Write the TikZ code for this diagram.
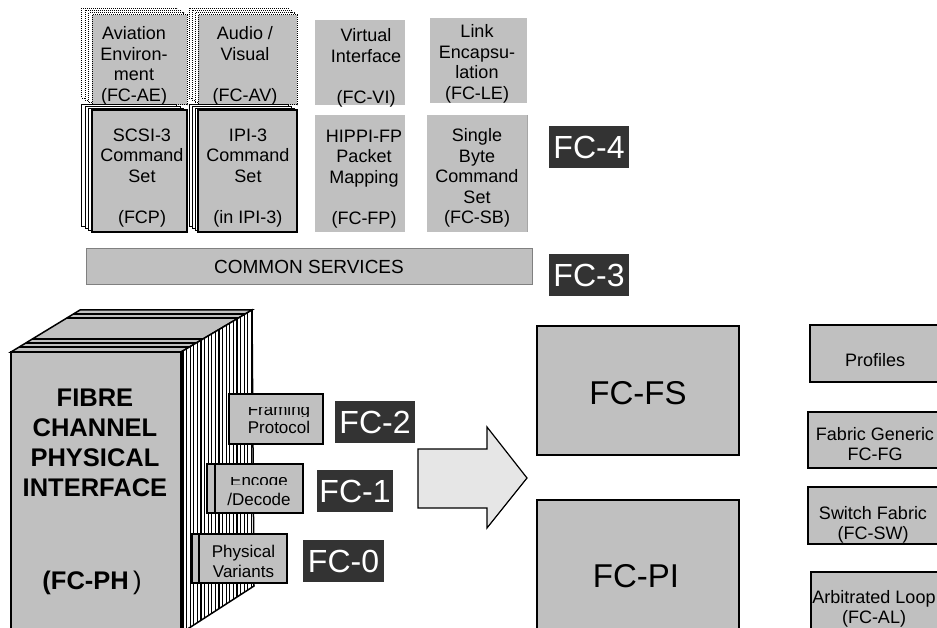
\documentclass[tikz,border=0pt]{standalone}
\usepackage{fontspec}
\setmainfont{Liberation Sans}
\definecolor{boxgray}{HTML}{C0C0C0}
\definecolor{labelbg}{HTML}{333333}
\definecolor{arrowfill}{HTML}{E6E6E6}
\begin{document}
\begin{tikzpicture}[x=1pt,y=-1pt,
  every node/.style={inner sep=0pt, outer sep=0pt},
  rectbox/.style={anchor=north west, draw=black, line width=1.5pt, fill=boxgray},
  plainbox/.style={anchor=north west, fill=boxgray},
  backpage/.style={anchor=north west, draw=black, line width=0.8pt, fill=white},
  dotpage/.style={anchor=north west, draw=black, densely dotted, line width=1pt, fill=white},
  txt/.style={align=center, font=\fontsize{18}{20.5}\selectfont},
  smalltxt/.style={align=center, font=\fontsize{17}{20}\selectfont},
  fclabel/.style={anchor=north west, fill=labelbg, text=white, font=\fontsize{32}{32}\selectfont, minimum width=80, minimum height=42},
  bigtxt/.style={font=\fontsize{33}{33}\selectfont}
]
\useasboundingbox (0,0) rectangle (937,628);
\clip (0,0) rectangle (937,628);

% ---------- top-left stacks: FC-AE / FC-AV ----------
\foreach \k in {3,2,1} {
  \node[dotpage, minimum width=95, minimum height=90] at ({92-3.5*\k},{15-2.3*\k}) {};
  \node[dotpage, minimum width=99, minimum height=90] at ({198-3*\k},{15-2.3*\k}) {};
}
\node[plainbox, draw=black, densely dotted, line width=1pt, minimum width=95, minimum height=90] (ae) at (92,15) {};
\node[plainbox, draw=black, densely dotted, line width=1pt, minimum width=99, minimum height=90] (av) at (198,15) {};
\node[txt] (aet) at (134,66) {Aviation\\Environ-\\ment\\(FC-AE)};
\node[txt] (avt) at (245,66) {Audio /\\Visual\\\mbox{}\\(FC-AV)};

% ---------- SCSI / IPI stacks ----------
\foreach \k in {3,2,1} {
  \node[backpage, minimum width=95, minimum height=122] at ({92-3.5*\k},{110-1.7*\k}) {};
  \node[backpage, minimum width=99, minimum height=122] at ({198-3*\k},{110-1.7*\k}) {};
}
\node[rectbox, minimum width=95, minimum height=122] (scsi) at (92,110) {};
\node[rectbox, minimum width=99, minimum height=122] (ipi) at (198,110) {};
\node[txt] (scsit) at (142,178) {SCSI-3\\Command\\Set\\\mbox{}\\(FCP)};
\node[txt] (ipit) at (248,178) {IPI-3\\Command\\Set\\\mbox{}\\(in IPI-3)};

% ---------- VI / LE / HIPPI / SB ----------
\node[plainbox, minimum width=90, minimum height=85] (vi) at (315,20) {};
\node[plainbox, minimum width=97, minimum height=85] (le) at (430,18) {};
\node[plainbox, minimum width=90, minimum height=117] (fp) at (315,115) {};
\node[plainbox, minimum width=100, minimum height=117] (sb) at (427,115) {};
\draw[gray!70, line width=1pt] (sb.north east) -- (sb.south east);
\node[txt] (vit) at (366,68) {Virtual\\Interface\\\mbox{}\\(FC-VI)};
\node[txt] (let) at (477,64) {Link\\Encapsu-\\lation\\(FC-LE)};
\node[txt] (fpt) at (364,179) {HIPPI-FP\\Packet\\Mapping\\\mbox{}\\(FC-FP)};
\node[txt] (sbt) at (477,178) {Single\\Byte\\Command\\Set\\(FC-SB)};

% ---------- common services ----------
\node[plainbox, draw=gray, line width=1pt, minimum width=446, minimum height=36] (cs) at (86,249) {};
\node[font=\fontsize{19}{22}\selectfont] (cst) at (cs.center) {COMMON SERVICES};

% ---------- FC labels ----------
\node[fclabel] (fc4) at (549,126) {FC-4};
\node[fclabel] (fc3) at (549,254) {FC-3};
\node[fclabel] (fc2) at (335,401) {FC-2};
\node[fclabel, minimum width=76] (fc1) at (317,470) {FC-1};
\node[fclabel, minimum width=81] (fc0) at (303,540) {FC-0};

% ---------- FC-PH block ----------
% top face
\filldraw[fill=boxgray, draw=black, line width=1.5pt] (11,352) -- (80,310) -- (252,310) -- (181,352) -- cycle;
\draw[line width=1.2pt] (19.2,347) -- (189.5,347);
\draw[line width=1.2pt] (25.8,343) -- (196.2,343);
\draw[line width=1.2pt] (32.4,339) -- (203,339);
\draw[line width=1.2pt] (66.9,318) -- (238.5,318);
\draw[line width=1.2pt] (73.4,314) -- (245.2,314);
% side face
\begin{scope}
  \clip (181,352) -- (252,310) -- (254,586) -- (186,630) -- (181,630) -- cycle;
  \fill[white] (175,300) rectangle (260,640);
  \foreach \x in {183,186.6,...,256} { \draw[line width=1.1pt] (\x,300) -- (\x,640); }
\end{scope}
\draw[line width=1.5pt] (181,352) -- (252,310) -- (254,586) -- (186,630);
% front face
\node[rectbox, minimum width=170, minimum height=288] (ph) at (11,352) {};
\node[align=center, font=\fontsize{25.5}{30}\selectfont\bfseries] (pht) at (95,443) {FIBRE\\CHANNEL\\PHYSICAL\\INTERFACE};
\node[font=\fontsize{25.5}{30}\selectfont] (phc) at (92,583) {\textbf{(FC-PH}\,)};

% layer boxes
\node[rectbox, minimum width=94, minimum height=50] (frm) at (229,394) {};
\node[rectbox, minimum width=96, minimum height=49] (encb) at (207,464) {};
\node[rectbox, minimum width=88, minimum height=49] (enc) at (215,464) {};
\node[rectbox, minimum width=95, minimum height=49] (phyb) at (192,534) {};
\node[rectbox, minimum width=88, minimum height=49] (phy) at (199,534) {};
\begin{scope}
  \clip (225,407.5) rectangle (330,416);
  \node[smalltxt, anchor=base] (frmt1) at (279,415) {Framing};
\end{scope}
\node[smalltxt, anchor=base] (frmt2) at (279,433) {Protocol};
\begin{scope}
  \clip (210,477) rectangle (310,484.5);
  \node[smalltxt, anchor=base] (enct1) at (259,486) {Encode};
\end{scope}
\node[smalltxt, anchor=base] (enct2) at (259,505) {/Decode};
\node[smalltxt] (phyt) at (243.5,561) {Physical\\Variants};

% ---------- arrow ----------
\filldraw[fill=arrowfill, draw=black, line width=1.2pt]
  (418,449) -- (487,449) -- (487,427) -- (527,478) -- (487,528) -- (487,508) -- (418,508) -- cycle;

% ---------- FC-FS / FC-PI ----------
\node[rectbox, minimum width=202, minimum height=129] (fs) at (537,326) {};
\node[rectbox, minimum width=202, minimum height=140] (pi) at (537,500) {};
\node[bigtxt] (fst) at (638,393) {FC-FS};
\node[bigtxt] (pit) at (636,576) {FC-PI};

% ---------- right column ----------
\node[rectbox, minimum width=135, minimum height=57] (prof) at (810,325) {};
\node[rectbox, minimum width=137, minimum height=56] (fg) at (808,412) {};
\node[rectbox, minimum width=137, minimum height=57] (sw) at (808,487) {};
\node[rectbox, minimum width=134, minimum height=60] (al) at (811,572) {};
\node[txt] (proft) at (875,360) {Profiles};
\node[txt, font=\fontsize{18}{20}\selectfont] (fgt) at (875,444) {Fabric Generic\\FC-FG};
\node[txt, font=\fontsize{18}{20}\selectfont] (swt) at (873,525) {Switch Fabric\\(FC-SW)};
\node[txt, font=\fontsize{18}{20}\selectfont] (alt) at (874,609) {Arbitrated Loop\\(FC-AL)};
\end{tikzpicture}
\end{document}
